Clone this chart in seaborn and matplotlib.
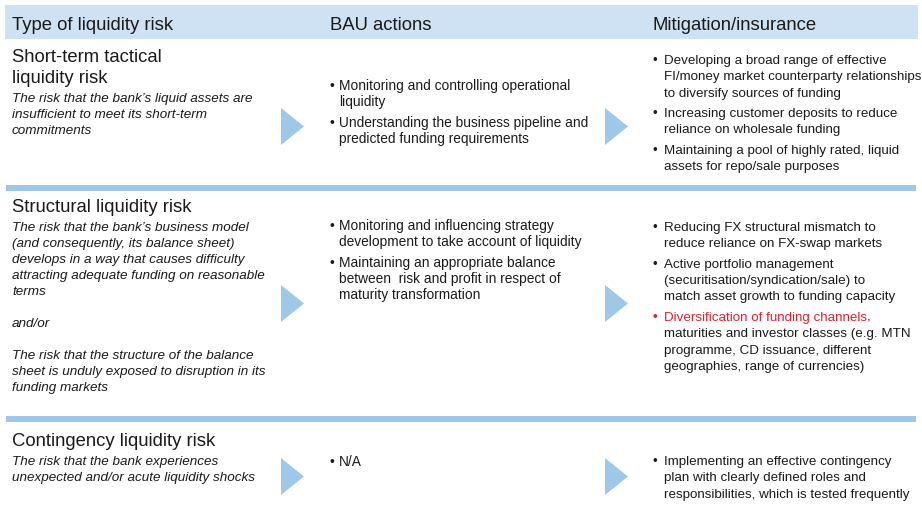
import numpy as np
import pandas as pd
import seaborn as sns
import matplotlib.pyplot as plt
from matplotlib.patches import Rectangle
from matplotlib.markers import MarkerStyle


# Table content
header_labels = ["Type of liquidity risk", "BAU actions", "Mitigation/insurance"]

risk_titles = [
    ["Short-term tactical", "liquidity risk"],
    ["Structural liquidity risk"],
    ["Contingency liquidity risk"],
]

risk_descriptions = [
    ["The risk that the bank\u2019s liquid assets are",
     "insufficient to meet its short-term",
     "commitments"],
    ["The risk that the bank\u2019s business model",
     "(and consequently, its balance sheet)",
     "develops in a way that causes difficulty",
     "attracting adequate funding on reasonable",
     "terms", "", "and/or", "",
     "The risk that the structure of the balance",
     "sheet is unduly exposed to disruption in its",
     "funding markets"],
    ["The risk that the bank experiences",
     "unexpected and/or acute liquidity shocks"],
]

bau_actions = [
    [["Monitoring and controlling operational", "liquidity"],
     ["Understanding the business pipeline and", "predicted funding requirements"]],
    [["Monitoring and influencing strategy", "development to take account of liquidity"],
     ["Maintaining an appropriate balance", "between  risk and profit in respect of",
      "maturity transformation"]],
    [["N/A"]],
]

mitigation = [
    [["Developing a broad range of effective",
      "FI/money market counterparty relationships",
      "to diversify sources of funding"],
     ["Increasing customer deposits to reduce", "reliance on wholesale funding"],
     ["Maintaining a pool of highly rated, liquid", "assets for repo/sale purposes"]],
    [["Reducing FX structural mismatch to", "reduce reliance on FX-swap markets"],
     ["Active portfolio management", "(securitisation/syndication/sale) to",
      "match asset growth to funding capacity"],
     ["Diversification of funding channels,",
      "maturities and investor classes (e.g. MTN",
      "programme, CD issuance, different",
      "geographies, range of currencies)"]],
    [["Implementing an effective contingency",
      "plan with clearly defined roles and",
      "responsibilities, which is tested frequently"]],
]

highlight = "Diversification of funding channels"

# Layout (pixels, y downwards)
title_y = [62, 212, 446]
desc_y = [102, 231, 465]
bau_y = [90, 230, 466]
mit_y = [64, 231, 465]
arrow_y = [126, 303, 476]
arrow_x = [291.5, 616]
separator_y = [185, 416]

sns.set_theme(style="white")
plt.rcParams['font.family'] = ['Liberation Sans', 'DejaVu Sans']

TEXT = "#1a1a1a"
RED = "#e5202b"
BAND = "#cfe2f3"
BLUE = "#9fc7e8"
TITLE_FS = 13.3
DESC_FS = 9.7
MID_FS = 9.9
RIGHT_FS = 9.6
LINE = 16.3
GAP = 20.5

fig = plt.figure(figsize=(9.22, 5.18), dpi=100)
ax = fig.add_axes([0, 0, 1, 1])

# header band and separators
ax.add_patch(Rectangle((5, 5), 913, 34, color=BAND, lw=0))
for y in separator_y:
    ax.add_patch(Rectangle((6, y), 910, 6, color=BLUE, lw=0))

for label, x in zip(header_labels, [12, 330, 652]):
    ax.text(x, 30, label, fontsize=TITLE_FS, color=TEXT, va='baseline')

# arrows via seaborn scatter with a custom triangle marker
tri = MarkerStyle([(-0.311, -0.5), (0.311, 0.0), (-0.311, 0.5), (-0.311, -0.5)])
arrows = pd.DataFrame([(x, y) for y in arrow_y for x in arrow_x], columns=["x", "y"])
sns.scatterplot(data=arrows, x="x", y="y", marker=tri, s=709, color=BLUE,
                linewidth=0, ax=ax, legend=False)
ax.set_xlim(0, 922)
ax.set_ylim(518, 0)
ax.axis('off')


def draw_bullets(items, x_bullet, x_text, y0, fs):
    y = y0
    for item in items:
        red = item[0].startswith(highlight)
        ax.text(x_bullet, y, "\u2022", fontsize=fs, color=RED if red else TEXT, va='baseline')
        for i, line in enumerate(item):
            if i == 0 and red:
                t = ax.text(x_text, y, highlight, fontsize=fs, color=RED, va='baseline')
                fig.canvas.draw()
                bb = t.get_window_extent().transformed(ax.transData.inverted())
                ax.text(bb.x1, y, line[len(highlight):], fontsize=fs, color=TEXT, va='baseline')
            else:
                ax.text(x_text, y, line, fontsize=fs, color=TEXT, va='baseline')
            y += LINE
        y += GAP - LINE


for r in range(3):
    for i, line in enumerate(risk_titles[r]):
        ax.text(12, title_y[r] + i * 21, line, fontsize=TITLE_FS, color=TEXT, va='baseline')
    for i, line in enumerate(risk_descriptions[r]):
        ax.text(12, desc_y[r] + i * 16, line, fontsize=DESC_FS, color=TEXT,
                style='italic', va='baseline')
    draw_bullets(bau_actions[r], 329, 339, bau_y[r], MID_FS)
    draw_bullets(mitigation[r], 652, 664, mit_y[r], RIGHT_FS)

fig.savefig("out.png", dpi=100)
